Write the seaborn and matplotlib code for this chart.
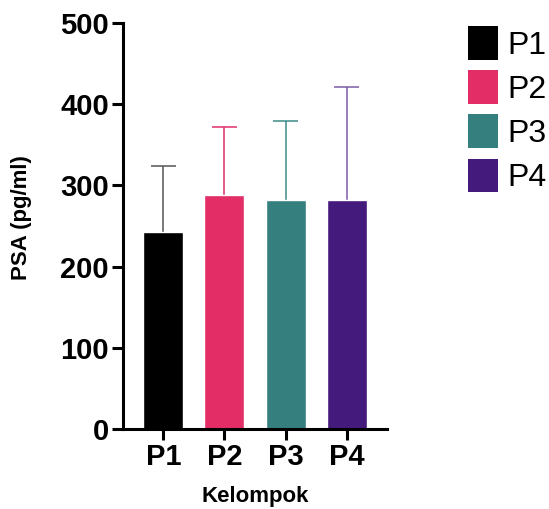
import matplotlib
matplotlib.use("Agg")
import matplotlib.pyplot as plt
import seaborn as sns
import pandas as pd
from matplotlib.patches import Patch

groups = ["P1", "P2", "P3", "P4"]
means = [243, 288, 282, 282]
sd = [81, 84, 97, 139]
bar_colors = ["#000000", "#E22D66", "#357F7E", "#441A7C"]
err_colors = ["#555555", "#E0306A", "#3A8A88", "#7D5BA6"]

sns.set_style("ticks")
plt.rcParams["font.family"] = ["Liberation Sans", "DejaVu Sans"]
plt.rcParams["text.color"] = "black"
plt.rcParams["axes.labelcolor"] = "black"
plt.rcParams["axes.edgecolor"] = "black"

df = pd.DataFrame({"Kelompok": groups, "PSA": means})

fig = plt.figure(figsize=(5.49, 5.09), dpi=100)
ax = fig.add_axes([123/549, 1-429/509, (387-123)/549, (429-23)/509])

sns.barplot(data=df, x="Kelompok", y="PSA", hue="Kelompok", palette=bar_colors,
            order=groups, hue_order=groups, width=0.656, dodge=False,
            legend=False, ax=ax, saturation=1, zorder=2)

cap_half = 0.205
for i, (m, s, c) in enumerate(zip(means, sd, err_colors)):
    ax.vlines(i, m, m + s, colors=c, linewidth=1.1, zorder=1)
    ax.hlines(m + s, i - cap_half, i + cap_half, colors=c, linewidth=1.1, zorder=1)

ax.set_ylim(0, 500)
ax.set_xlim(-0.66, 3.66)
ax.set_yticks([0, 100, 200, 300, 400, 500])
ax.set_xlabel("Kelompok", fontsize=16, fontweight="bold", labelpad=11, color="black")
ax.set_ylabel("PSA (pg/ml)", fontsize=16, fontweight="bold", color="black")
ax.yaxis.set_label_coords(-0.345, 0.52)
for sp in ["top", "right"]:
    ax.spines[sp].set_visible(False)
for sp in ["left", "bottom"]:
    ax.spines[sp].set_linewidth(2.2)
    ax.spines[sp].set_color("black")
ax.tick_params(axis="both", width=2.2, length=8, labelsize=21, pad=2, colors="black")
for lab in ax.get_xticklabels() + ax.get_yticklabels():
    lab.set_fontweight("bold")

handles = [Patch(facecolor=c, edgecolor="none") for c in bar_colors]
fig.legend(handles, groups, loc="upper left", bbox_to_anchor=(468/549, 1-26/509),
           frameon=False, fontsize=23, handlelength=0.94, handleheight=1.25,
           labelspacing=0.3, handletextpad=0.3, borderaxespad=0, borderpad=0,
           labelcolor="black")

fig.savefig("out.png", dpi=100)
